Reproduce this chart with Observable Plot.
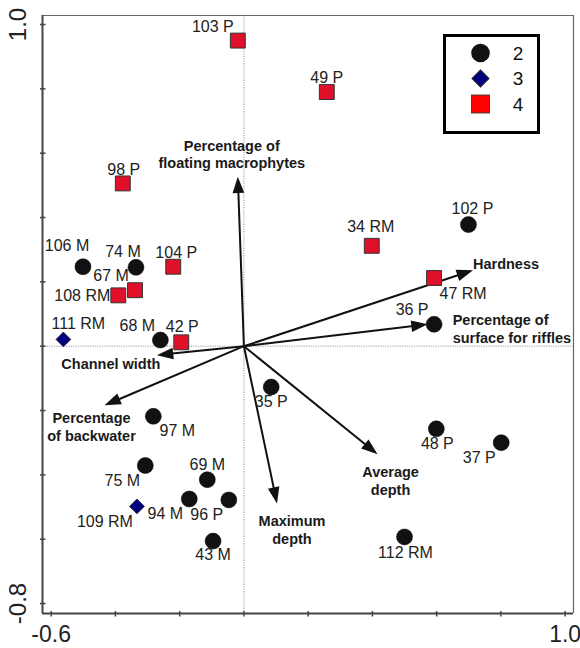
<!DOCTYPE html>
<html>
<head>
<meta charset="utf-8">
<script src="https://cdn.jsdelivr.net/npm/d3@7"></script>
<script src="https://cdn.jsdelivr.net/npm/@observablehq/plot@0.6"></script>
<style>
  body { margin: 0; background: #fff; font-family: "Liberation Sans", Arial, sans-serif; }
  #wrap { position: relative; width: 580px; height: 648px; }
  #legend { position: absolute; left: 443px; top: 34px; width: 97px; height: 100px;
            box-sizing: border-box; border: 3px solid #000; background: #fff; }
</style>
</head>
<body>
<div id="wrap"></div>
<script>
// ---------------- data ----------------
const siteNames = ["103 P","98 P","49 P","34 RM","47 RM","104 P","67 M","108 RM","42 P",
  "102 P","36 P","106 M","74 M","68 M","35 P","97 M","75 M","69 M","94 M","96 P","43 M","48 P","37 P","112 RM",
  "111 RM","109 RM"];
const siteAxis1 = [-0.019,-0.377,0.258,0.398,0.592,-0.220,-0.339,-0.391,-0.195,
  0.699,0.592,-0.501,-0.336,-0.260,0.085,-0.282,-0.307,-0.114,-0.170,-0.047,-0.096,0.599,0.801,0.500,
  -0.562,-0.333];
const siteAxis2 = [0.950,0.506,0.790,0.312,0.212,0.247,0.174,0.158,0.012,
  0.378,0.068,0.247,0.245,0.019,-0.127,-0.218,-0.371,-0.415,-0.475,-0.478,-0.606,-0.257,-0.300,-0.593,
  0.021,-0.498];
const siteGroup = ["4","4","4","4","4","4","4","4","4",
  "2","2","2","2","2","2","2","2","2","2","2","2","2","2","2",
  "3","3"];

const envNames = ["Percentage of\nfloating macrophytes","Hardness","Percentage of\nsurface for riffles",
  "Channel width","Percentage\nof backwater","Maximum\ndepth","Average\ndepth"];
const envAxis1 = [-0.019,0.713,0.572,-0.271,-0.434,0.103,0.416];
const envAxis2 = [0.527,0.236,0.068,-0.028,-0.184,-0.489,-0.336];

const xTickValues = [-0.6,-0.4,-0.2,0,0.2,0.4,0.6,0.8,1.0];
const yTickValues = [-0.8,-0.6,-0.4,-0.2,0,0.2,0.4,0.6,0.8,1.0];
const xTickLabels = [-0.6, 1.0];
const yTickLabels = [1.0, -0.8];
const legendGroups = ["2","3","4"];

// ---------------- layout ----------------
const W = 580, H = 648;
const M = {top: 15, right: 7, bottom: 35, left: 42};
const xDom = [-0.627, 1.026], yDom = [-0.831, 1.028];
const kx = (W - M.left - M.right) / (xDom[1] - xDom[0]);
const ky = (H - M.top - M.bottom) / (yDom[1] - yDom[0]);

// label offsets in pixels (label centre relative to symbol)
const siteLabelOffset = {
  "103 P":[-25,-14],"98 P":[1,-14],"49 P":[0,-14],"34 RM":[-1,-19],"47 RM":[29,16],"104 P":[3,-14],
  "67 M":[-24,-14],"108 RM":[-36,1],"42 P":[1,-15],"102 P":[4,-16],"36 P":[-22,-14],"106 M":[-16,-21],
  "74 M":[-13,-15],"68 M":[-23,-14],"35 P":[0,15],"97 M":[24,15],"75 M":[-23,15],"69 M":[0,-15],
  "94 M":[-24,15],"96 P":[-22,15],"43 M":[0,14],"48 P":[1,15],"37 P":[-22,15],"112 RM":[1,16],
  "111 RM":[15,-16],"109 RM":[-32,15]
};
// env label offsets relative to arrow tip (px) and anchor
const envLabelLayout = [[-6,-23,"middle"],[0,-7,"start"],[25,4,"start"],[-46,8,"middle"],
  [-13,21,"middle"],[15,26,"middle"],[13,26,"middle"]];

const sites = siteNames.map((name, i) => {
  const [ox, oy] = siteLabelOffset[name];
  return {name, x: siteAxis1[i], y: siteAxis2[i], group: siteGroup[i],
          lx: siteAxis1[i] + ox / kx, ly: siteAxis2[i] - oy / ky};
});
const env = envNames.map((label, i) => {
  const x = envAxis1[i], y = envAxis2[i];
  const px = x * kx, py = y * ky, len = Math.hypot(px, py);
  const back = 8 / len;
  const [ox, oy, anchor] = envLabelLayout[i];
  return {label, x, y, x2: x * (1 - back), y2: y * (1 - back),
          angle: Math.atan2(px, py) * 180 / Math.PI,
          lx: x + ox / kx, ly: y - oy / ky, anchor};
});

const arrowHead = {draw(ctx, size) {
  const s = Math.sqrt(size / Math.PI);
  ctx.moveTo(0, 0); ctx.lineTo(-0.75 * s, 2.1 * s); ctx.lineTo(0.75 * s, 2.1 * s); ctx.closePath();
}};
const hTick = {draw(ctx) { ctx.moveTo(-2.5, 0); ctx.lineTo(3, 0); }};
const vTick = {draw(ctx) { ctx.moveTo(0, -2.5); ctx.lineTo(0, 3); }};

const font = "Liberation Sans, Arial, sans-serif";
const yLabelX = xDom[0] - 24 / kx;   // left tick labels sit 24px left of the axis
const xLabelY = yDom[0] - 21 / ky;   // bottom tick labels sit 21px below the axis

const chart = Plot.plot({
  width: W, height: H,
  marginTop: M.top, marginRight: M.right, marginBottom: M.bottom, marginLeft: M.left,
  x: {domain: xDom, axis: null},
  y: {domain: yDom, axis: null},
  style: {fontFamily: font, background: "transparent"},
  marks: [
    Plot.ruleX([0], {stroke: "#9a9a9a", strokeWidth: 1, strokeDasharray: "1.2,1.2"}),
    Plot.ruleY([0], {stroke: "#9a9a9a", strokeWidth: 1, strokeDasharray: "1.2,1.2"}),
    Plot.ruleY([yDom[1]], {stroke: "#666", strokeWidth: 1.2}),
    Plot.ruleX([xDom[1]], {stroke: "#666", strokeWidth: 1.2}),
    Plot.ruleX([xDom[0]], {stroke: "#444", strokeWidth: 2}),
    Plot.ruleY([yDom[0]], {stroke: "#444", strokeWidth: 2}),
    Plot.dot(yTickValues, {y: d => d, frameAnchor: "left", symbol: hTick, stroke: "#444", strokeWidth: 1.5, r: 3}),
    Plot.dot(xTickValues, {x: d => d, frameAnchor: "bottom", symbol: vTick, stroke: "#444", strokeWidth: 1.5, r: 3}),
    Plot.text(yTickLabels, {x: () => yLabelX, y: d => d, rotate: -90,
      text: d => d.toFixed(1), fontSize: 24, fill: "#222"}),
    Plot.text(xTickLabels, {x: d => d, y: () => xLabelY,
      text: d => d.toFixed(1), fontSize: 23, fill: "#222"}),
    // arrows
    Plot.link(env, {x1: () => 0, y1: () => 0, x2: "x2", y2: "y2", stroke: "#111", strokeWidth: 2}),
    Plot.dot(env, {x: "x", y: "y", symbol: arrowHead, r: 7.8, rotate: "angle", fill: "#111", stroke: "none"}),
    Plot.text(env.filter(d => d.anchor === "middle"), {x: "lx", y: "ly", text: "label", textAnchor: "middle",
      fontWeight: "bold", fontSize: 14.5, lineHeight: 1.2, fill: "#1a1a1a"}),
    Plot.text(env.filter(d => d.anchor === "start"), {x: "lx", y: "ly", text: "label", textAnchor: "start",
      fontWeight: "bold", fontSize: 14.5, lineHeight: 1.2, fill: "#1a1a1a"}),
    // sites
    Plot.dot(sites.filter(d => d.group === "2"), {x: "x", y: "y", r: 8, fill: "#111", stroke: "#000", strokeWidth: 0.5}),
    Plot.dot(sites.filter(d => d.group === "4"), {x: "x", y: "y", symbol: "square", r: 8.4,
      fill: "#e0102a", stroke: "#333", strokeWidth: 1}),
    Plot.dot(sites.filter(d => d.group === "3"), {x: "x", y: "y", symbol: "square", r: 5.9, rotate: 45,
      fill: "#00007f", stroke: "#222", strokeWidth: 0.8}),
    Plot.text(sites, {x: "lx", y: "ly", text: "name", fontSize: 16, fill: "#222"})
  ]
});

const wrap = document.getElementById("wrap");
wrap.appendChild(chart);

// legend overlay
const legend = d3.select(wrap).append("div").attr("id", "legend");
const lsvg = legend.append("svg").attr("width", 91).attr("height", 94)
  .style("display", "block").style("font-family", font);
const legendStyle = {
  "2": g => g.append("circle").attr("r", 9.3).attr("fill", "#111"),
  "3": g => g.append("rect").attr("x", -6).attr("y", -6).attr("width", 12).attr("height", 12)
            .attr("transform", "rotate(45)").attr("fill", "#00007f").attr("stroke", "#222"),
  "4": g => g.append("rect").attr("x", -9).attr("y", -9).attr("width", 18).attr("height", 18)
            .attr("fill", "#ff0000").attr("stroke", "#444")
};
legendGroups.forEach((g, i) => {
  const row = lsvg.append("g").attr("transform", `translate(0, ${16 + i * 25.5})`);
  legendStyle[g](row.append("g").attr("transform", "translate(34.5, 0)"));
  row.append("text").attr("x", 72).attr("dy", "0.35em").attr("text-anchor", "middle")
    .attr("font-size", 19).attr("fill", "#111").text(g);
});
</script>
</body>
</html>
